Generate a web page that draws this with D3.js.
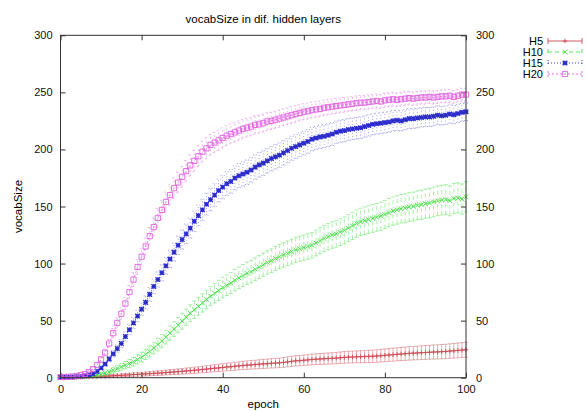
<!DOCTYPE html>
<html>
<head>
<meta charset="utf-8">
<script src="https://cdn.jsdelivr.net/npm/d3@7"></script>
<style>
  body { margin: 0; background: #fff; }
  svg { display: block; font-family: "Liberation Sans", Arial, sans-serif; }
</style>
</head>
<body>
<div id="chart"></div>
<script>
// values, one per epoch (0..100)
var epochs = d3.range(0, 101)

var h5 = [0,0.1,0.1,0.2,0.3,0.4,0.5,0.6,0.8,0.9,
  1.1,1.3,1.5,1.7,1.9,2.1,2.3,2.5,2.7,2.9,
  3.1,3.3,3.5,3.8,4.0,4.2,4.5,4.8,5.0,5.3,
  5.6,5.9,6.2,6.5,6.8,7.2,7.5,7.9,8.3,8.6,
  9.0,9.4,9.6,10.0,10.4,10.7,11.0,11.3,11.5,11.8,
  12.1,12.3,12.6,12.8,13.0,13.4,13.9,14.3,14.8,15.0,
  15.3,15.6,16.0,16.2,16.4,16.6,16.8,17.0,17.2,17.5,
  17.8,18.0,18.1,18.3,18.4,18.5,18.7,18.8,19.0,19.3,
  19.6,19.9,20.2,20.5,20.8,21.0,21.3,21.5,21.7,21.9,
  22.1,22.3,22.5,22.6,22.8,23.0,23.3,23.6,23.9,24.2,24.5]
var h10 = [0.2,0.2,0.3,0.4,0.5,0.7,0.9,1.2,1.6,2.2,
  3,4,5,6.5,8,9.5,11,12.5,14,16,
  18,20.5,23,26,29,32,35.5,39,42.5,46,
  49.5,53,56.5,59.5,62.5,65.5,68.5,71.5,74,76.5,
  79,81,83,85.5,87.5,89.5,91.5,93,95,97,
  99,101,102.5,104.5,106,107.5,109,110.5,112,113,
  114,115,116,118,120,122,123.5,125,126,127.5,
  129,131,133,135,136.5,137.5,138.5,139.5,140.5,141.5,
  143,144.5,146,147,148,148.5,149.5,150,151,151.5,
  152.5,153,154,155,155.5,156,155,157,157.5,156.5,158.5]
var h15 = [0.3,0.4,0.5,0.7,1,1.3,1.8,2.5,3.5,5.5,
  8.5,12,16.5,21,25.5,30,36,42,48,54,
  60,66,73,80,86,92,98,104,110,116,
  121,126,131,137,142,147,152,156,160,164,
  167,170,172,175,177,178.5,180,182,184.5,186.5,
  188,190,192,193.5,195,197,199,201,202.5,204,
  205.5,207,209,210,211,211.5,212.5,213.5,215,216,
  216.5,217.5,218,218.5,219,220,221,222,222.5,223,
  223.5,224,225,225.5,225,226,227,227,227.5,228,
  228.5,228.5,229,230,229.5,230,231,230.5,231.5,232.5,233]
var h20 = [0.5,0.6,0.8,1.0,1.5,2.2,3.2,5,7.5,11,
  16,22,30,39,48,56,65,75,86,97,
  106,115,124,132,140,147,154,160,166,171,
  176,181,186,190,194,198,201,204,206,208,
  210,212,213.5,215,216.5,218,219,220,221.5,222,
  223,224.5,225,226,227,228,229,230,231,232,
  233,233.5,234.5,235,235.5,236.5,237,237.5,238,238.5,
  239,239.5,240,240.5,241,241,241.5,242,242.5,242,
  243,243.5,244,243.5,244,244.5,245,244.5,245,245.5,
  245.5,246,245.5,246,246.5,246.5,247,246,247,248,248]

// half height of the error bars
var h5err = [0.2,0.2,0.3,0.3,0.4,0.4,0.5,0.6,0.6,0.7,
  0.8,0.9,1.0,1.0,1.1,1.2,1.3,1.4,1.5,1.5,
  1.6,1.7,1.8,1.9,2.0,2.0,2.1,2.2,2.3,2.4,
  2.5,2.6,2.6,2.7,2.8,2.9,3.0,3.0,3.1,3.2,
  3.3,3.3,3.4,3.5,3.5,3.6,3.7,3.8,3.8,3.9,
  4.0,4.0,4.1,4.2,4.2,4.3,4.4,4.4,4.5,4.5,
  4.6,4.6,4.7,4.7,4.8,4.8,4.9,4.9,5.0,5.0,
  5.1,5.1,5.2,5.2,5.3,5.3,5.4,5.4,5.5,5.5,
  5.6,5.6,5.7,5.7,5.8,5.8,5.9,5.9,6.0,6.0,
  6.1,6.1,6.2,6.2,6.3,6.3,6.4,6.4,6.5,6.5,6.6]
var h10err = [0.2,0.2,0.3,0.3,0.4,0.5,0.6,0.8,1.0,1.2,
  1.5,1.8,2.0,2.3,2.6,2.9,3.2,3.5,3.8,4.1,
  4.3,4.6,4.9,5.2,5.5,5.7,6.0,6.2,6.5,6.7,
  7.0,7.2,7.4,7.6,7.8,8.0,8.2,8.4,8.6,8.8,
  9.0,9.1,9.2,9.4,9.5,9.6,9.8,9.9,10.0,10.1,
  10.2,10.3,10.4,10.5,10.6,10.7,10.8,10.9,11.0,11.0,
  11.1,11.2,11.2,11.3,11.4,11.4,11.5,11.6,11.6,11.7,
  11.8,11.8,11.9,12.0,12.0,12.1,12.1,12.2,12.2,12.3,
  12.3,12.4,12.4,12.5,12.5,12.6,12.6,12.7,12.7,12.8,
  12.8,12.9,12.9,13.0,13.0,13.1,13.1,13.2,13.2,13.3,13.3]
var h15err = [0.2,0.2,0.3,0.3,0.4,0.5,0.6,0.8,1.0,1.3,
  1.6,2.0,2.4,2.8,3.2,3.6,4.0,4.4,4.8,5.2,
  5.5,5.8,6.1,6.4,6.7,7.0,7.3,7.6,7.9,8.2,
  8.4,8.6,8.8,9.0,9.2,9.4,9.6,9.8,10.0,10.1,
  10.2,10.3,10.4,10.5,10.6,10.6,10.7,10.7,10.8,10.8,
  10.8,10.8,10.8,10.8,10.7,10.7,10.6,10.6,10.5,10.5,
  10.4,10.4,10.3,10.2,10.2,10.1,10.0,10.0,9.9,9.8,
  9.8,9.7,9.6,9.6,9.5,9.4,9.4,9.3,9.2,9.2,
  9.1,9.0,9.0,8.9,8.8,8.8,8.7,8.6,8.6,8.5,
  8.4,8.4,8.3,8.2,8.2,8.1,8.0,8.0,7.9,7.8,7.8]
var h20err = [0.3,0.3,0.4,0.5,0.6,0.8,1.0,1.3,1.7,2.1,
  2.6,3.1,3.6,4.1,4.6,5.0,5.4,5.8,6.2,6.6,
  7.0,7.3,7.6,7.9,8.2,8.4,8.6,8.8,9.0,9.1,
  9.2,9.3,9.3,9.3,9.3,9.2,9.2,9.1,9.0,8.9,
  8.8,8.7,8.6,8.5,8.4,8.3,8.2,8.1,8.0,7.9,
  7.8,7.7,7.6,7.6,7.5,7.4,7.3,7.3,7.2,7.1,
  7.1,7.0,6.9,6.9,6.8,6.8,6.7,6.7,6.6,6.6,
  6.5,6.5,6.4,6.4,6.3,6.3,6.3,6.2,6.2,6.2,
  6.1,6.1,6.1,6.0,6.0,6.0,5.9,5.9,5.9,5.8,
  5.8,5.8,5.8,5.7,5.7,5.7,5.7,5.6,5.6,5.6,5.6]

var names = ["H5", "H10", "H15", "H20"]
var xTicks = [0, 20, 40, 60, 80, 100]
var yTicks = [0, 50, 100, 150, 200, 250, 300]

var series = [
  {name: names[0], vals: h5,  err: h5err,  color: "#cc4a55", dash: null,  mark: "plus"},
  {name: names[1], vals: h10, err: h10err, color: "#44e044", dash: "4,3", mark: "cross"},
  {name: names[2], vals: h15, err: h15err, color: "#2b2bcc", dash: "1,2", mark: "star"},
  {name: names[3], vals: h20, err: h20err, color: "#e060e0", dash: "2,2", mark: "box"}
]

var W = 586, H = 411
// plot box (window.top is reserved, so prefix the names)
var pLeft = 60.5, pRight = 466, pTop = 35.3, pBottom = 377.7

var x = d3.scaleLinear().domain([0, 100]).range([pLeft, pRight])
var y = d3.scaleLinear().domain([0, 300]).range([pBottom, pTop])

var svg = d3.select("#chart").append("svg")
    .attr("width", W)
    .attr("height", H)

// title + axis names
svg.append("text")
    .attr("x", (pLeft + pRight) / 2)
    .attr("y", 23)
    .attr("text-anchor", "middle")
    .style("font-size", "11.5px")
    .text("vocabSize in dif. hidden layers")

svg.append("text")
    .attr("x", (pLeft + pRight) / 2)
    .attr("y", 408)
    .attr("text-anchor", "middle")
    .style("font-size", "11.5px")
    .text("epoch")

svg.append("text")
    .attr("transform", "translate(22," + ((pTop + pBottom) / 2) + ") rotate(-90)")
    .attr("text-anchor", "middle")
    .style("font-size", "11.5px")
    .text("vocabSize")

// axes, ticks pointing inward like gnuplot
function styleAxis(g) {
  g.select(".domain").remove()
  g.selectAll(".tick line").attr("stroke", "#333")
  g.selectAll(".tick text").style("font-size", "11px").attr("fill", "#111")
}

svg.append("g")
    .attr("transform", "translate(0," + pBottom + ")")
    .call(d3.axisBottom(x).tickValues(xTicks).tickSizeInner(-5).tickSizeOuter(0).tickPadding(8))
    .call(styleAxis)
svg.append("g")
    .attr("transform", "translate(0," + pTop + ")")
    .call(d3.axisTop(x).tickValues(xTicks).tickSizeInner(-5).tickSizeOuter(0).tickFormat(""))
    .call(styleAxis)
svg.append("g")
    .attr("transform", "translate(" + pLeft + ",0)")
    .call(d3.axisLeft(y).tickValues(yTicks).tickSizeInner(-5).tickSizeOuter(0).tickPadding(8))
    .call(styleAxis)
svg.append("g")
    .attr("transform", "translate(" + pRight + ",0)")
    .call(d3.axisRight(y).tickValues(yTicks).tickSizeInner(-5).tickSizeOuter(0).tickPadding(10))
    .call(styleAxis)

function markPath(kind, r) {
  if (kind == "plus") return "M" + (-r) + ",0H" + r + "M0," + (-r) + "V" + r
  if (kind == "cross") return "M" + (-r) + "," + (-r) + "L" + r + "," + r + "M" + (-r) + "," + r + "L" + r + "," + (-r)
  if (kind == "star") return "M" + (-r) + ",0H" + r + "M0," + (-r) + "V" + r +
      "M" + (-r) + "," + (-r) + "L" + r + "," + r + "M" + (-r) + "," + r + "L" + r + "," + (-r)
  return "M" + (-r) + "," + (-r) + "H" + r + "V" + r + "H" + (-r) + "Z"
}

var plot = svg.append("g")
var cap = 2

series.forEach(function(s) {
  var g = plot.append("g")
  var pts = epochs.map(function(e, i) { return {e: e, v: s.vals[i], d: s.err[i]} })

  // error bars
  g.selectAll("path.bar").data(pts).enter().append("path")
      .attr("class", "bar")
      .attr("fill", "none")
      .attr("stroke", s.color)
      .attr("stroke-width", 0.7)
      .attr("stroke-opacity", 0.65)
      .attr("stroke-dasharray", s.dash)
      .attr("d", function(p) {
        var cx = x(p.e), y0 = y(Math.max(0, p.v - p.d)), y1 = y(Math.min(300, p.v + p.d))
        return "M" + cx + "," + y0 + "V" + y1 +
          "M" + (cx - cap) + "," + y0 + "H" + (cx + cap) +
          "M" + (cx - cap) + "," + y1 + "H" + (cx + cap)
      })

  // connecting line
  g.append("path")
      .datum(pts)
      .attr("fill", "none")
      .attr("stroke", s.color)
      .attr("stroke-width", 0.8)
      .attr("stroke-dasharray", s.dash)
      .attr("d", d3.line().x(function(p) { return x(p.e) }).y(function(p) { return y(p.v) }))

  // points
  g.selectAll("path.pt").data(pts).enter().append("path")
      .attr("class", "pt")
      .attr("transform", function(p) { return "translate(" + x(p.e) + "," + y(p.v) + ")" })
      .attr("d", markPath(s.mark, s.mark == "box" ? 2.6 : 2.3))
      .attr("fill", "none")
      .attr("stroke", s.color)
      .attr("stroke-width", s.mark == "star" ? 1.3 : 0.9)
})

// frame
svg.append("rect")
    .attr("x", pLeft).attr("y", pTop)
    .attr("width", pRight - pLeft).attr("height", pBottom - pTop)
    .attr("fill", "none")
    .attr("stroke", "#333")
    .attr("stroke-width", 1)

// legend
var leg = svg.append("g")
series.forEach(function(s, i) {
  var ly = 41 + i * 11
  leg.append("text")
      .attr("x", 543).attr("y", ly + 4)
      .attr("text-anchor", "end")
      .style("font-size", "11px")
      .text(s.name)
  leg.append("path")
      .attr("d", "M548," + ly + "H582M548," + (ly - 3) + "V" + (ly + 3) + "M582," + (ly - 3) + "V" + (ly + 3))
      .attr("fill", "none")
      .attr("stroke", s.color)
      .attr("stroke-width", 0.9)
      .attr("stroke-dasharray", s.dash)
  leg.append("path")
      .attr("transform", "translate(565," + ly + ")")
      .attr("d", markPath(s.mark, s.mark == "box" ? 2.6 : 2.3))
      .attr("fill", "none")
      .attr("stroke", s.color)
      .attr("stroke-width", s.mark == "star" ? 1.3 : 0.9)
})
</script>
</body>
</html>
